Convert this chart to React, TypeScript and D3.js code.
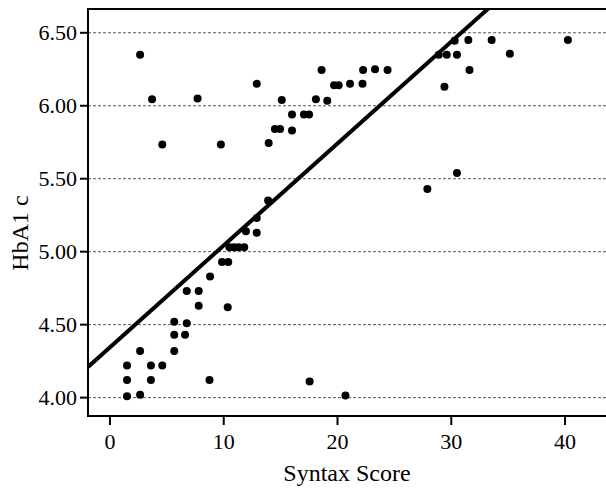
import React from "react";
import * as d3 from "d3";

const syntaxScore: number[] = [
  1.5, 1.5, 1.5, 2.65, 2.65, 3.6, 3.6, 4.6, 5.65, 5.65, 5.65, 6.75, 6.75, 6.6,
  7.8, 7.8, 8.8, 8.75, 9.85, 10.4, 10.35, 10.5, 10.9, 11.3, 11.8, 11.95, 12.9,
  12.9, 13.9,
  2.65, 3.7, 4.6, 7.7, 9.75, 12.9, 13.95, 15.1, 14.5, 14.95, 16.0, 16.0, 17.05,
  17.5, 18.1, 19.1, 19.7, 20.1, 21.1, 22.2, 18.6, 22.25, 23.3, 24.4,
  27.9, 30.5, 29.4, 31.6, 28.9, 29.6, 30.5, 30.3, 31.5, 33.55, 35.15, 40.25,
  17.55, 20.7,
];
const hba1c: number[] = [
  4.22, 4.12, 4.01, 4.32, 4.02, 4.22, 4.12, 4.22, 4.52, 4.43, 4.32, 4.73, 4.51,
  4.43, 4.73, 4.63, 4.83, 4.12, 4.93, 4.93, 4.62, 5.03, 5.03, 5.03, 5.03, 5.14,
  5.13, 5.23, 5.35,
  6.35, 6.045, 5.735, 6.05, 5.735, 6.15, 5.745, 6.04, 5.84, 5.84, 5.94, 5.83,
  5.94, 5.94, 6.045, 6.035, 6.14, 6.14, 6.15, 6.15, 6.245, 6.245, 6.25, 6.245,
  5.43, 5.54, 6.13, 6.245, 6.35, 6.35, 6.35, 6.445, 6.45, 6.45, 6.357, 6.45,
  4.11, 4.015,
];
const xTicks: number[] = [0, 10, 20, 30, 40];
const yTicks: number[] = [4.0, 4.5, 5.0, 5.5, 6.0, 6.5];
const fitIntercept = 4.345;
const fitSlope = 0.0698;
const xTitle = "Syntax Score";
const yTitle = "HbA1 c";

const W = 606;
const H = 488;
const left = 88;
const right = 606;
const top = 9;
const bottom = 416;
const FONT = "'Liberation Serif', 'Times New Roman', serif";

export default function App() {
  const x = d3.scaleLinear().domain([-1.93, 43.6]).range([left, right]);
  const y = d3.scaleLinear().domain([3.874, 6.663]).range([bottom, top]);
  const [x0, x1] = x.domain();
  const fitPts: [number, number][] = [
    [x0, fitIntercept + fitSlope * x0],
    [x1, fitIntercept + fitSlope * x1],
  ];
  const line = d3
    .line<[number, number]>()
    .x((d) => x(d[0]))
    .y((d) => y(d[1]));
  const points = syntaxScore.map((s, i) => [s, hba1c[i]] as [number, number]);

  return (
    <svg
      width={W}
      height={H}
      style={{ position: "absolute", left: 0, top: 0, display: "block", background: "#fff" }}
    >
      <defs>
        <clipPath id="plotClip">
          <rect x={left} y={top} width={right - left} height={bottom - top} />
        </clipPath>
      </defs>
      {yTicks.map((t) => (
        <line
          key={"g" + t}
          x1={left}
          x2={right}
          y1={y(t)}
          y2={y(t)}
          stroke="#555"
          strokeWidth={1}
          strokeDasharray="3,2"
        />
      ))}
      <g clipPath="url(#plotClip)">
        {points.map((p, i) => (
          <circle key={i} cx={x(p[0])} cy={y(p[1])} r={4} fill="#000" />
        ))}
        <path d={line(fitPts) || ""} stroke="#000" strokeWidth={4} fill="none" />
      </g>
      <line x1={left} x2={left} y1={top - 1} y2={bottom + 1} stroke="#000" strokeWidth={2} />
      <line x1={left - 1} x2={right} y1={top} y2={top} stroke="#000" strokeWidth={2} />
      <line x1={left - 1} x2={right} y1={bottom} y2={bottom} stroke="#000" strokeWidth={2} />
      {yTicks.map((t) => (
        <g key={"yt" + t}>
          <line x1={left - 8} x2={left} y1={y(t)} y2={y(t)} stroke="#000" strokeWidth={2} />
          <text
            x={77}
            y={y(t)}
            dy="0.35em"
            textAnchor="end"
            fontFamily={FONT}
            fontSize={22}
            fill="#000"
          >
            {t.toFixed(2)}
          </text>
        </g>
      ))}
      {xTicks.map((t) => (
        <g key={"xt" + t}>
          <line x1={x(t)} x2={x(t)} y1={bottom} y2={bottom + 9} stroke="#000" strokeWidth={2} />
          <text
            x={x(t)}
            y={449}
            textAnchor="middle"
            fontFamily={FONT}
            fontSize={22}
            fill="#000"
          >
            {t}
          </text>
        </g>
      ))}
      <text
        x={(left + right) / 2}
        y={481}
        textAnchor="middle"
        fontFamily={FONT}
        fontSize={24}
        fill="#000"
      >
        {xTitle}
      </text>
      <text
        transform={`translate(28, 233) rotate(-90)`}
        textAnchor="middle"
        fontFamily={FONT}
        fontSize={24}
        fill="#000"
      >
        {yTitle}
      </text>
    </svg>
  );
}
